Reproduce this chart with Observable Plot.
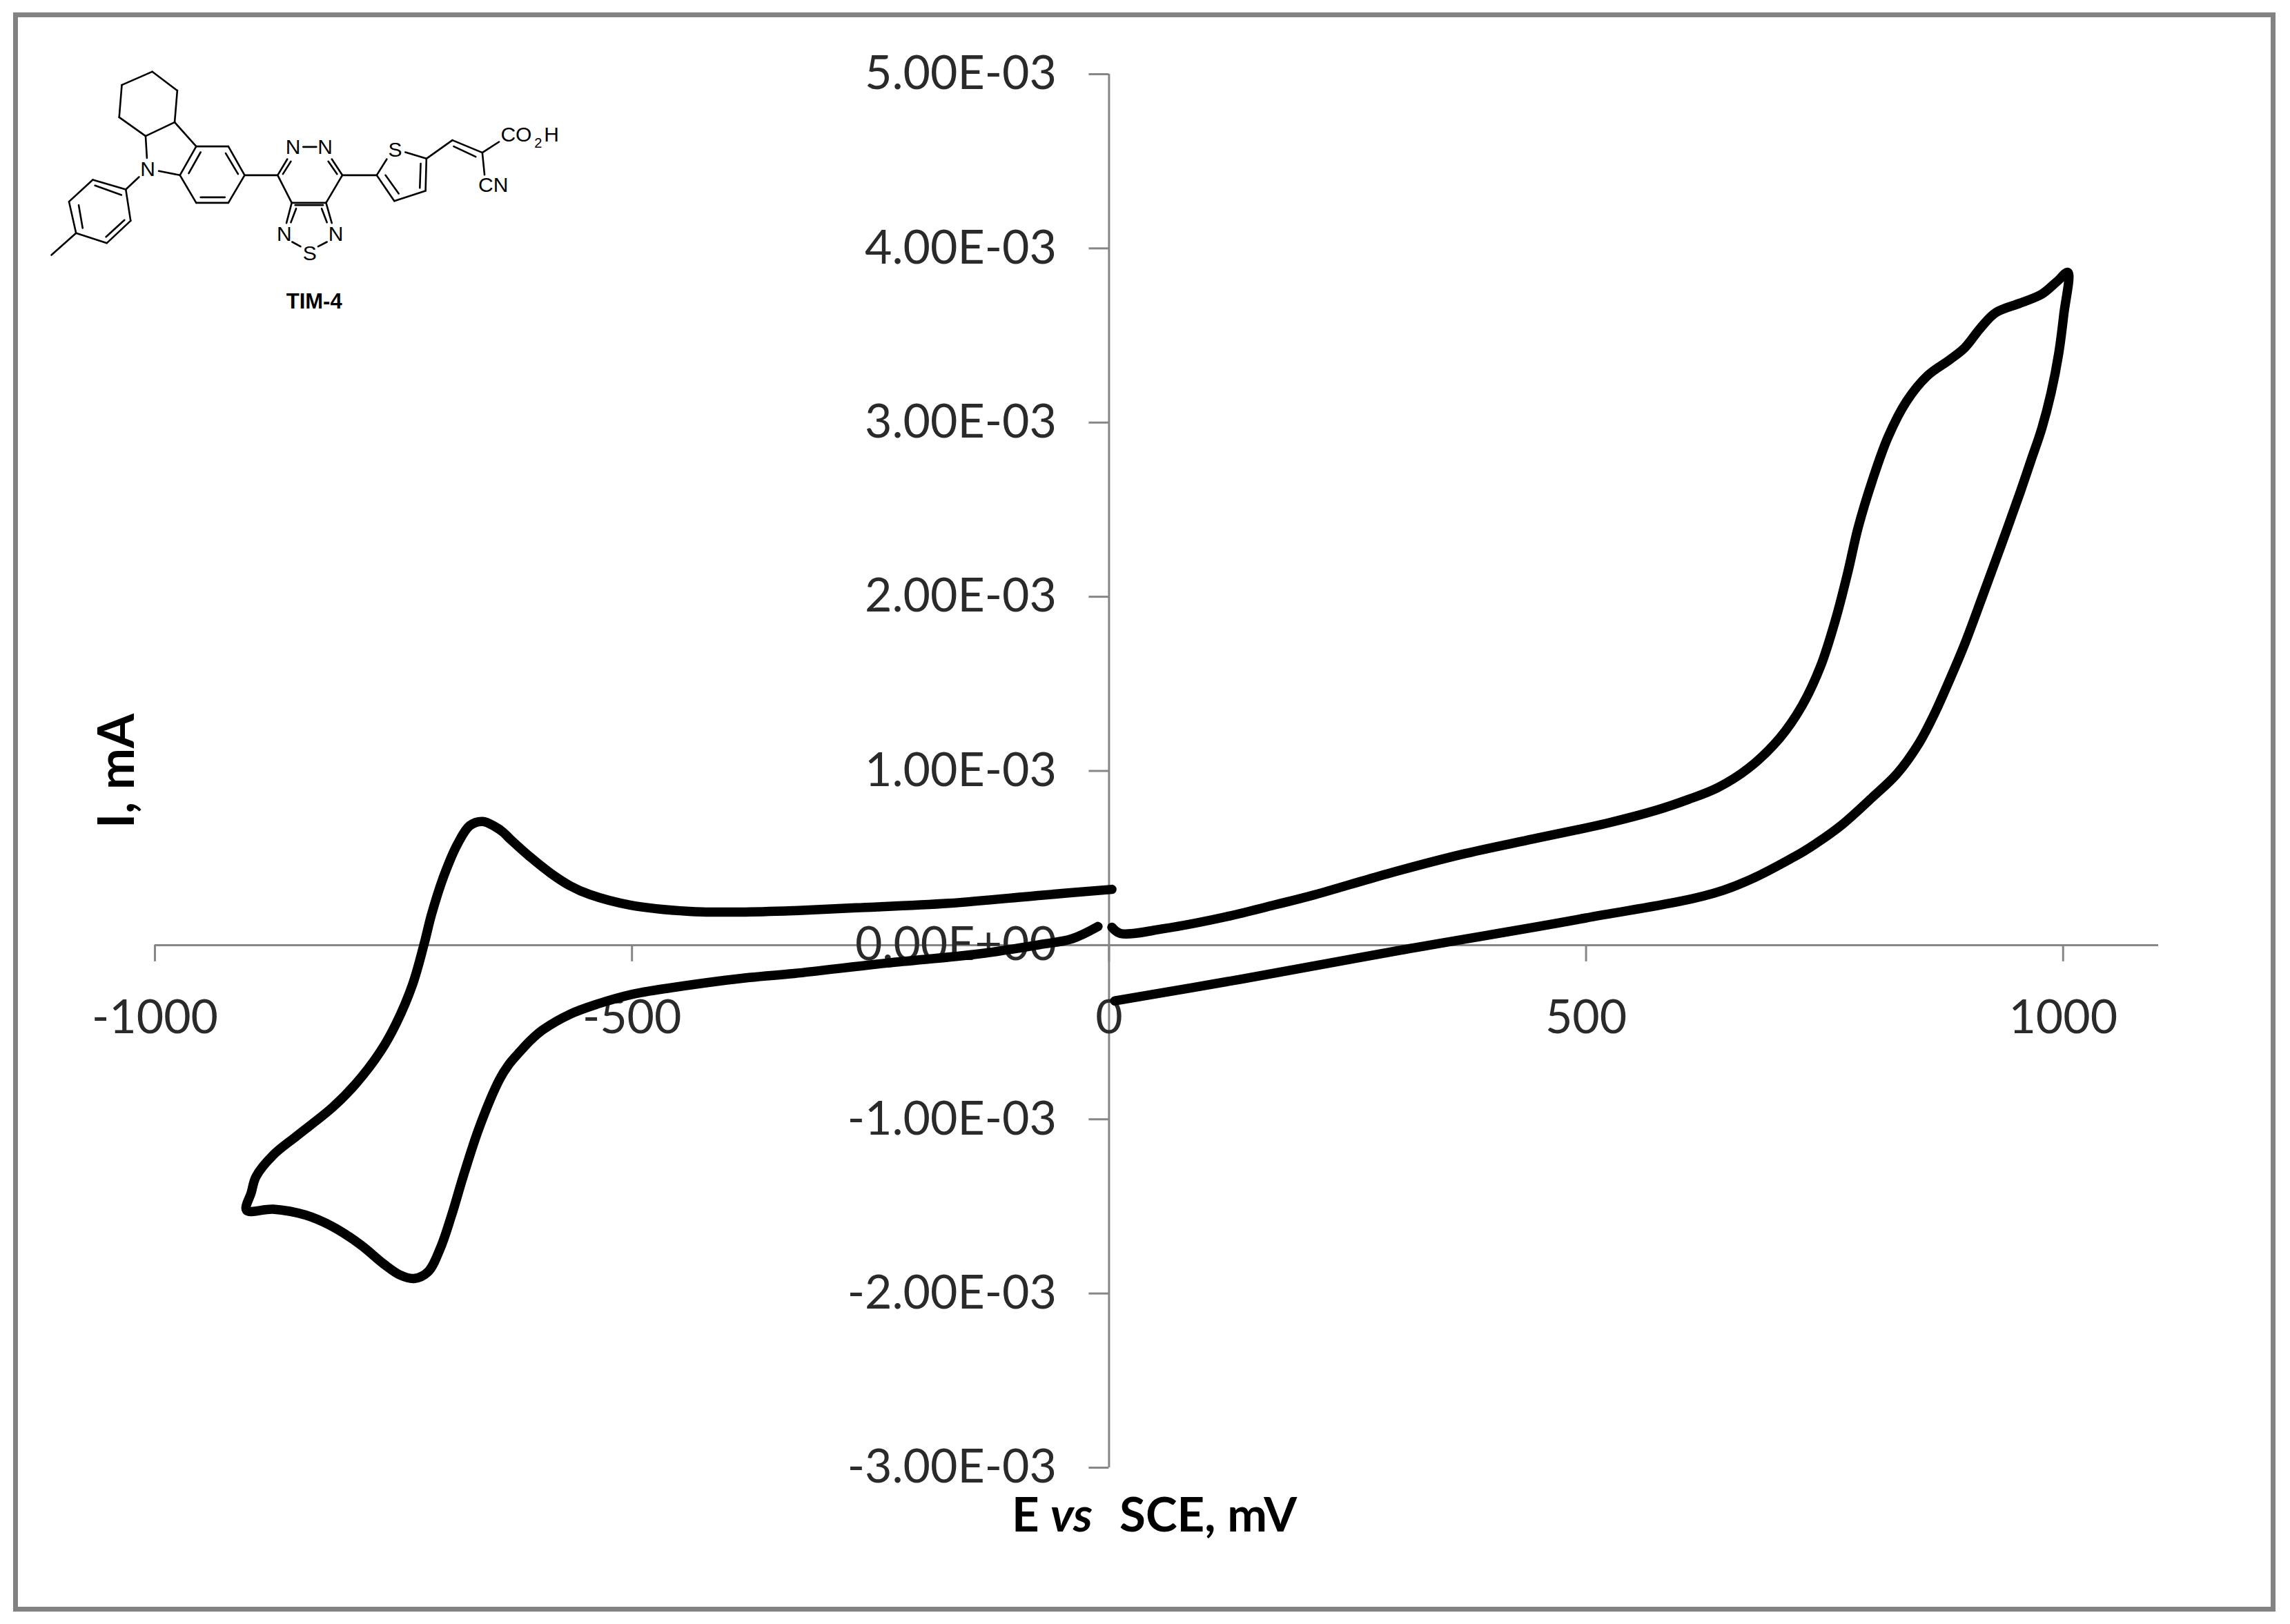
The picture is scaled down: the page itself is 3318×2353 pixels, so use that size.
<!DOCTYPE html>
<html><head><meta charset="utf-8">
<script src="https://cdn.jsdelivr.net/npm/d3@7"></script>
<script src="https://cdn.jsdelivr.net/npm/@observablehq/plot@0.6"></script>
<style>
html,body{margin:0;padding:0;background:#fff;width:3318px;height:2353px;overflow:hidden}
#frame{position:absolute;left:19px;top:18px;width:3264px;height:2303px;border:7px solid #828282;box-sizing:content-box}
#chart,#mol{position:absolute;left:0;top:0}
svg{background:transparent!important;overflow:visible}
</style></head><body>
<div id="frame"></div><div id="chart"></div><div id="mol"></div>
<script>
// cyclic voltammogram, potential in mV, current in 1e-3 mA
const rightE=[3,12,58,122,176,216,292,369,445,522,574,607,638,671,703,726,745.5,761.6,774.5,785,800,816.5,836,858,881,897,913,929,955,977.6,993.6,1005,1000.7,995.4,987.3,977.6,966.3,955,935.6,916,896.6,880.7,864.8,848.5,825.8,800,768,742,719.5,644,499,315,139,6];
const rightI=[0.103,0.067,0.095,0.162,0.234,0.29,0.41,0.52,0.61,0.70,0.775,0.836,0.904,1.019,1.189,1.371,1.597,1.871,2.144,2.394,2.667,2.917,3.123,3.27,3.36,3.43,3.54,3.63,3.686,3.737,3.81,3.862,3.62,3.397,3.168,2.965,2.782,2.60,2.303,2.01,1.725,1.518,1.324,1.155,0.983,0.848,0.69,0.587,0.511,0.315,0.155,-0.02,-0.195,-0.32];
const leftE=[3,-71.5,-168,-265,-330,-386,-440,-502,-544,-565,-585,-606,-627,-635,-643.5,-656.5,-670,-682.6,-697,-710,-718,-730,-747,-763.6,-789,-813.5,-851,-876,-894,-899,-904,-876,-842,-813.5,-784.5,-759.6,-743,-728.5,-713.7,-701,-689,-677,-660,-639,-629,-618,-606,-593.6,-564.7,-535.5,-502,-460.6,-377,-330,-233,-136,-71.5,-39,-11.6];
const leftI=[0.32,0.286,0.24,0.214,0.198,0.19,0.194,0.23,0.29,0.341,0.412,0.503,0.605,0.648,0.68,0.71,0.686,0.583,0.40,0.178,0.004,-0.226,-0.448,-0.61,-0.793,-0.93,-1.094,-1.205,-1.328,-1.42,-1.522,-1.516,-1.55,-1.617,-1.72,-1.833,-1.894,-1.914,-1.875,-1.742,-1.55,-1.33,-1.046,-0.773,-0.685,-0.615,-0.545,-0.487,-0.396,-0.337,-0.285,-0.246,-0.186,-0.163,-0.103,-0.05,0.004,0.036,0.107];
const xTicks=[-1000,-500,0,500,1000];
const yTicks=[-3e-3,-2e-3,-1e-3,0,1e-3,2e-3,3e-3,4e-3,5e-3];
const yTickLabels=["-3.00E-03","-2.00E-03","-1.00E-03","0.00E+00","1.00E-03","2.00E-03","3.00E-03","4.00E-03","5.00E-03"];

const trace=(name,E,I)=>E.map((e,i)=>({series:name,e,i:I[i]*1e-3}));
const curve=[...trace("right",rightE,rightI),...trace("left",leftE,leftI)];

const font="Lato, Carlito, sans-serif";
const axisGray="#868686", tickInk="#2a2a2a";

const chart=Plot.plot({
  width:3318,height:2353,marginLeft:224,marginRight:191,marginTop:107,marginBottom:227,
  style:{fontFamily:font,background:"transparent"},
  x:{domain:[-1000,1100],axis:null},
  y:{domain:[-3e-3,5e-3],axis:null},
  marks:[
    Plot.ruleY([0],{stroke:axisGray,strokeWidth:3}),
    Plot.ruleX([0],{stroke:axisGray,strokeWidth:3}),
    Plot.axisX({y:0,anchor:"bottom",ticks:xTicks,tickSize:24,tickPadding:55,stroke:axisGray,strokeWidth:3,
      tickFormat:d=>String(d),fontSize:68,fill:tickInk,label:null}),
    Plot.axisY({x:0,anchor:"left",ticks:yTicks,tickSize:29,tickPadding:47,stroke:axisGray,strokeWidth:3,
      tickFormat:d=>yTickLabels[yTicks.findIndex(t=>Math.abs(t-d)<1e-9)],fontSize:68,fill:tickInk,label:null}),
    Plot.line(curve,{x:"e",y:"i",z:"series",stroke:"#000",strokeWidth:13.5,curve:"catmull-rom",strokeLinejoin:"round",strokeLinecap:"round"}),
    Plot.text(["I, mA"],{x:-1039,y:1.0e-3,text:d=>d,rotate:-90,fontSize:72,fontWeight:700,fill:"#000"}),
    Plot.text(["E"],{x:-102,y:-3.28e-3,text:d=>d,textAnchor:"start",fontSize:69,fontWeight:700,fill:"#000"}),
    Plot.text(["vs"],{x:-61.5,y:-3.28e-3,text:d=>d,textAnchor:"start",fontSize:69,fontWeight:700,fontStyle:"italic",fill:"#000"}),
    Plot.text(["SCE, mV"],{x:11,y:-3.28e-3,text:d=>d,textAnchor:"start",fontSize:69,fontWeight:700,fill:"#000"})
  ]
});
document.getElementById("chart").append(chart);

// inset structure of TIM-4
const bondPaths=[
 [[345,310],[402,392],[396,530],[330,590],[270,508],[276,368],[345,310]],
 [[396,530],[445,635]],[[330,590],[333,685]],[[360,742],[408,760]],
 [[445,635],[518,635],[555,760],[518,880],[445,880],[408,760],[445,635]],
 [[428,752],[455,660]],[[512,665],[540,755]],[[455,856],[510,856]],
 [[315,768],[285,822]],
 [[285,822],[210,780],[156,875],[172,1012],[242,1055],[296,958],[285,822]],
 [[275,846],[215,805]],[[178,890],[187,990]],[[240,1028],[282,955]],
 [[172,1012],[116,1107]],
 [[555,760],[630,760],[662,880],[740,880],[777,760],[855,760]],
 [[630,760],[652,690]],[[777,760],[753,690]],[[642,755],[660,700]],[[765,755],[745,700]],
 [[688,637],[718,637]],[[670,890],[733,890]],
 [[662,880],[650,968]],[[672,905],[660,965]],[[740,880],[753,968]],[[730,905],[742,965]],
 [[663,1050],[682,1070]],[[742,1050],[722,1070]],
 [[855,760],[878,690]],[[920,660],[968,688],[966,828],[895,872],[855,760]],
 [[955,710],[953,815]],[[905,840],[875,760]],
 [[968,688],[1027,608],[1095,662]],[[1030,635],[1080,680]],
 [[1095,662],[1133,615]],[[1095,662],[1100,758]]
];
const bonds=bondPaths.flatMap(p=>p.slice(1).map((q,k)=>({x1:p[k][0],y1:p[k][1],x2:q[0],y2:q[1]})));
const atomText=["N","N","N","N","N","S","S","CN","CO","H"];
const atomX=[335,665,738,645,762,703,897,1120,1172,1252];
const atomY=[735,640,640,1018,1018,1100,650,805,585,585];
const atoms=atomText.map((t,i)=>({t,x:atomX[i],y:atomY[i]}));

const mol=Plot.plot({
  width:1000,height:520,margin:0,
  style:{fontFamily:"'Liberation Sans', Arial, sans-serif",background:"transparent"},
  x:{domain:[0,1568],axis:null},
  y:{domain:[1560,0],axis:null},
  marks:[
    Plot.link(bonds,{x1:"x1",y1:"y1",x2:"x2",y2:"y2",stroke:"#000",strokeWidth:2.6,strokeLinecap:"round"}),
    Plot.text(atoms,{x:"x",y:"y",text:"t",fontSize:30,fill:"#000"}),
    Plot.text(["2"],{x:1222,y:620,text:d=>d,fontSize:20,fill:"#000"}),
    Plot.text(["TIM-4"],{x:713,y:1310,text:d=>d,fontSize:31,fontWeight:700,fill:"#000"})
  ]
});
document.getElementById("mol").append(mol);
</script></body></html>
